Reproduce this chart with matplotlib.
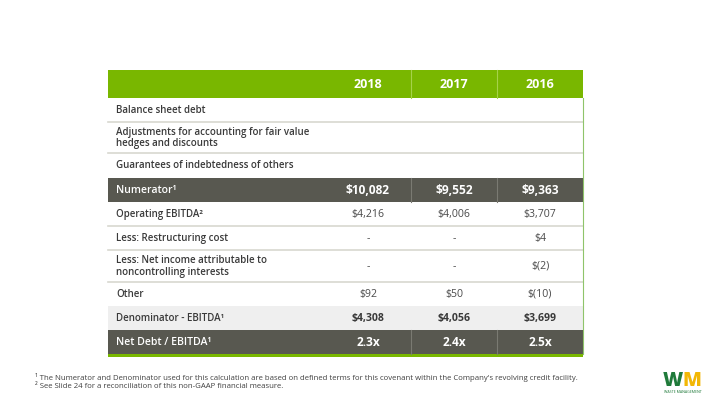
import matplotlib
matplotlib.use("Agg")
import matplotlib.pyplot as plt
from matplotlib.patches import Rectangle

years = ["2018", "2017", "2016"]
row_labels = [
    "Balance sheet debt",
    "Adjustments for accounting for fair value\nhedges and discounts",
    "Guarantees of indebtedness of others",
    "Numerator¹",
    "Operating EBITDA²",
    "Less: Restructuring cost",
    "Less: Net income attributable to\nnoncontrolling interests",
    "Other",
    "Denominator - EBITDA¹",
    "Net Debt / EBITDA¹",
]
values_2018 = ["", "", "", "$10,082", "$4,216", "-", "-", "$92", "$4,308", "2.3x"]
values_2017 = ["", "", "", "$9,552", "$4,006", "-", "-", "$50", "$4,056", "2.4x"]
values_2016 = ["", "", "", "$9,363", "$3,707", "$4", "$(2)", "$(10)", "$3,699", "2.5x"]
row_styles = ["plain", "plain", "plain", "dark", "plain", "plain", "plain", "plain", "light", "dark"]
footnotes = [
    "¹ The Numerator and Denominator used for this calculation are based on defined terms for this covenant within the Company's revolving credit facility.",
    "² See Slide 24 for a reconciliation of this non-GAAP financial measure.",
]

GREEN = "#79b700"
DARK = "#585850"
LIGHT = "#efefef"
SEP = "#d8d8d0"
TXT = "#3a3a3a"
NUM = "#4a4a4a"
FONT = ["Open Sans", "DejaVu Sans"]

fig = plt.figure(figsize=(7.2, 4.05), dpi=100)
ax = fig.add_axes([0, 0, 1, 1])
ax.set_xlim(0, 720)
ax.set_ylim(405, 0)
ax.axis("off")

left, right = 108, 583
col_edges = [325, 411, 497, 583]
header_top, header_bot = 70, 98
row_bounds = [98, 122, 153, 178, 202, 226, 250, 282, 306, 330, 354]

# header
ax.add_patch(Rectangle((left, header_top), right - left, header_bot - header_top, color=GREEN, lw=0))
for j, y in enumerate(years):
    cx = (col_edges[j] + col_edges[j + 1]) / 2
    ax.text(cx, (header_top + header_bot) / 2 + 0.5, y, ha="center", va="center",
            color="white", fontsize=9, fontweight="bold", family=FONT)
for x in col_edges[1:3]:
    ax.plot([x, x], [header_top, header_bot], color="#a6d24a", lw=0.8)

cols = [values_2018, values_2017, values_2016]
for i, lab in enumerate(row_labels):
    y0, y1 = row_bounds[i], row_bounds[i + 1]
    st = row_styles[i]
    cy = (y0 + y1) / 2 + 0.3
    if st == "dark":
        ax.add_patch(Rectangle((left, y0), right - left, y1 - y0, color=DARK, lw=0))
        for x in col_edges[1:3]:
            ax.plot([x, x], [y0, y1], color="#7a7a72", lw=0.8)
        ltc, vtc, lw_, vw, lfs, vfs = "white", "white", "semibold", "bold", 7.6, 8.6
    elif st == "light":
        ax.add_patch(Rectangle((left, y0), right - left, y1 - y0, color=LIGHT, lw=0))
        ltc, vtc, lw_, vw, lfs, vfs = TXT, TXT, "semibold", "bold", 7.0, 7.6
    else:
        ltc, vtc, lw_, vw, lfs, vfs = TXT, NUM, "semibold", "normal", 7.0, 7.6
    ax.text(116, cy, lab, ha="left", va="center", color=ltc, fontsize=lfs,
            fontweight=lw_, family=FONT, linespacing=1.05)
    for j in range(3):
        cx = (col_edges[j] + col_edges[j + 1]) / 2
        ax.text(cx, cy, cols[j][i], ha="center", va="center", color=vtc,
                fontsize=vfs, fontweight=vw, family=FONT)
    if st == "plain" and i + 1 < len(row_labels) and row_styles[i + 1] == "plain":
        ax.plot([left, right], [y1, y1], color=SEP, lw=1.2)

# bottom green line and right edge line
ax.add_patch(Rectangle((left, 354), right - left, 2.5, color=GREEN, lw=0))
ax.plot([right, right], [98, 354], color="#8fc46a", lw=0.8)

# footnotes
ax.text(35, 377, footnotes[0], ha="left", va="center", fontsize=5.6, color="#404040", family=FONT)
ax.text(35, 387, footnotes[1], ha="left", va="center", fontsize=5.6, color="#404040", family=FONT)

# logo
ax.text(673, 381, "W", ha="center", va="center", fontsize=14, fontweight="heavy",
        color="#1f7a3a", family=FONT)
ax.text(692, 381, "M", ha="center", va="center", fontsize=14, fontweight="heavy",
        color="#f2b705", family=FONT)
ax.text(683, 392, "WASTE MANAGEMENT", ha="center", va="center", fontsize=2.6,
        color="#1f7a3a", family=FONT)

fig.savefig("out.png", dpi=100)
